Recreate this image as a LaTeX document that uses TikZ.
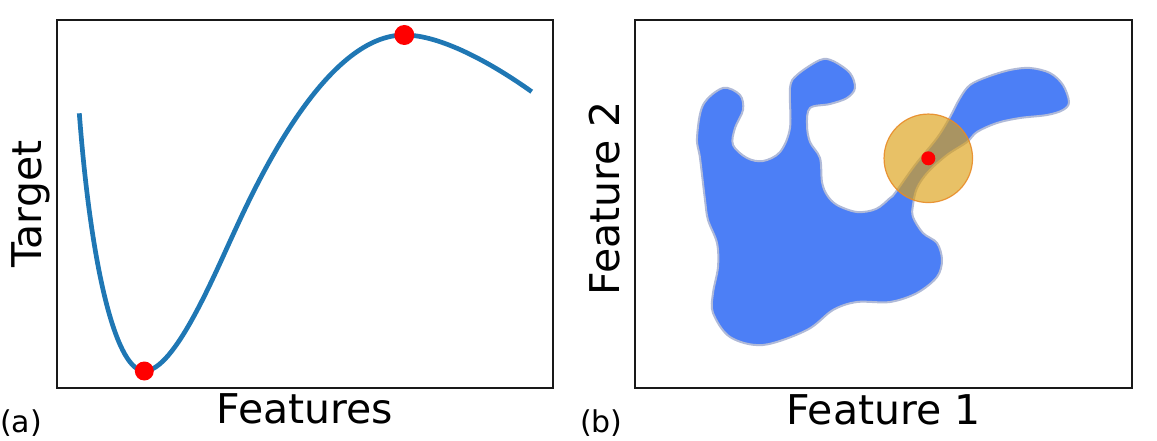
\documentclass[tikz,border=0pt]{standalone}
\usepackage{fontspec}
\setmainfont{DejaVu Sans}
\definecolor{curveblue}{RGB}{31,119,180}
\definecolor{blobblue}{RGB}{76,127,246}
\definecolor{blobedge}{RGB}{176,186,216}
\definecolor{circfill}{RGB}{220,160,20}
\definecolor{circedge}{RGB}{232,140,40}
\tikzset{
  frame/.style={draw=black!90, line width=2.6pt},
  axlabel/.style={font=\fontsize{41}{48}\selectfont, inner sep=0pt},
  panellabel/.style={font=\fontsize{30}{36}\selectfont, inner sep=0pt, anchor=base west},
  reddot/.style={circle, fill=red, inner sep=0pt},
}
\begin{document}
\begin{tikzpicture}[x=1pt,y=-1pt]
\useasboundingbox (0,0) rectangle (1157,441);
% ---------- panel (a) ----------
\node[frame, rectangle, minimum width=496pt, minimum height=368pt, inner sep=0pt] (boxa) at (305,204) {};
\draw[curveblue, line width=4.7pt]
  (79.3,113.3) .. controls (92,280) and (118,371) .. (144.3,371)
  .. controls (175,371) and (215,273) .. (236.7,226.7)
  .. controls (265,165) and (330,35) .. (404.3,35)
  .. controls (440,35) and (490,62) .. (531.7,91.7);
\node[reddot, minimum size=19pt] (mina) at (144.3,371) {};
\node[reddot, minimum size=20pt] (maxa) at (404.3,35) {};
\node[axlabel, anchor=base] (xa) at (305,423) {Features};
\node[axlabel, anchor=base, rotate=90] (ya) at (41.5,204) {Target};
\node[panellabel] (la) at (0,432) {(a)};
% ---------- panel (b) ----------
\node[frame, rectangle, minimum width=497pt, minimum height=368pt, inner sep=0pt] (boxb) at (883.5,204) {};
\draw[blobedge, line width=2pt, fill=blobblue]
  plot[smooth cycle, tension=0.55] coordinates {
  (705,200) (700,158) (697,138) (703,105) (723,88) (740,95) (743,110) (735,128)
  (733,145) (747,158) (763,161) (780,152) (790,128) (790,88) (797,75) (820,60)
  (833,61) (850,73) (855,88) (847,98) (830,104) (810,108) (807,125) (810,142)
  (820,158) (822,182) (827,195) (837,205) (857,212) (876,209) (890,198) (895,193)
  (915,165) (937,138) (950,117) (960,98) (970,85) (987,77) (1010,70) (1030,68)
  (1050,73) (1063,85) (1069,102) (1063,110) (1047,115) (1020,118) (997,123) (977,132)
  (967,142) (947,155) (928,172) (917,188) (913,205) (913,217) (923,233) (937,243)
  (942,260) (937,277) (917,293) (890,302) (857,302) (833,310) (807,330) (763,345)
  (730,337) (713,313) (713,293) (718,267) (717,243) (708,220)};
\node[circle, minimum size=88.5pt, inner sep=0pt, fill=circfill, fill opacity=0.65,
      draw=circedge, draw opacity=0.9, line width=1.2pt] (nbhd) at (928.3,158.3) {};
\node[reddot, minimum size=14pt] (pt) at (nbhd.center) {};
\node[axlabel, anchor=base] (xb) at (883.5,424) {Feature 1};
\node[axlabel, anchor=base, rotate=90] (yb) at (619,198) {Feature 2};
\node[panellabel] (lb) at (580,432) {(b)};
\end{tikzpicture}
\end{document}
